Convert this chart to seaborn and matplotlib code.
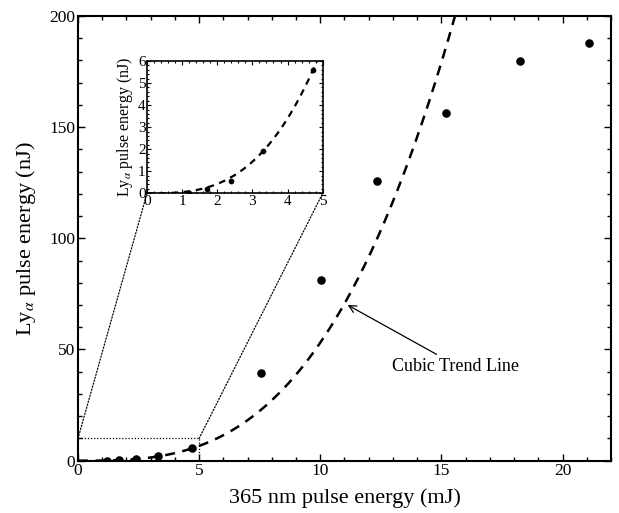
import numpy as np
import pandas as pd
import matplotlib
matplotlib.use("Agg")
import matplotlib.pyplot as plt
import seaborn as sns
from matplotlib.patches import ConnectionPatch
from matplotlib.ticker import MultipleLocator

# ---- data ----
low_x = [1.2, 1.7, 2.38, 3.31, 4.72]          # 365 nm pulse energy (mJ)
low_y = [0.03, 0.18, 0.57, 1.93, 5.6]         # Ly-alpha energy (nJ)
high_x = [7.55, 10.02, 12.36, 15.21, 18.26, 21.09]
high_y = [39.6, 81.4, 125.8, 156.2, 179.7, 188.0]

main_xticks = [0, 5, 10, 15, 20]
main_yticks = [0, 50, 100, 150, 200]
inset_xticks = [0, 1, 2, 3, 4, 5]
inset_yticks = [0, 1, 2, 3, 4, 5, 6]
zoom_box = (5, 10)   # x-extent, y-extent of zoomed region

# cubic trend line y = a*x^3 fitted (least squares) to the low-energy points
lx = np.array(low_x); ly = np.array(low_y)
a = np.sum(lx**3 * ly) / np.sum(lx**6)

all_df = pd.DataFrame({"x": low_x + high_x, "y": low_y + high_y})
low_df = pd.DataFrame({"x": low_x, "y": low_y})
tx = np.linspace(0, 16, 300)
trend_df = pd.DataFrame({"x": tx, "y": a * tx**3})
tx2 = np.linspace(0, 5, 200)
trend_in_df = pd.DataFrame({"x": tx2, "y": a * tx2**3})

sns.set_theme(style="ticks")
plt.rcParams["font.family"] = ["Liberation Serif", "DejaVu Serif"]
plt.rcParams["mathtext.fontset"] = "stix"
plt.rcParams["xtick.direction"] = "in"
plt.rcParams["ytick.direction"] = "in"

fig = plt.figure(figsize=(6.19, 5.13), dpi=100)
ax = fig.add_axes([0.126, 0.102, 0.861, 0.867])

sns.lineplot(data=trend_df, x="x", y="y", ax=ax, color="black", lw=1.8,
             linestyle=(0, (4, 3)))
sns.scatterplot(data=all_df, x="x", y="y", ax=ax, color="black", s=38,
                edgecolor="black", linewidth=0, zorder=5)

ax.set_xlim(0, 22)
ax.set_ylim(0, 200)
ax.set_xticks(main_xticks)
ax.set_yticks(main_yticks)
ax.xaxis.set_minor_locator(MultipleLocator(1))
ax.yaxis.set_minor_locator(MultipleLocator(10))
ax.tick_params(which="both", top=True, right=True, labelsize=12.5, pad=2,
               width=1.0, color="black", labelcolor="black")
ax.tick_params(which="major", length=5)
ax.tick_params(which="minor", length=3)
for s in ax.spines.values():
    s.set_linewidth(1.5)
    s.set_color("black")
ax.set_xlabel("365 nm pulse energy (mJ)", fontsize=16, labelpad=6, color="black")
ax.set_ylabel(r"Ly$_\alpha$ pulse energy (nJ)", fontsize=16, labelpad=8, color="black")

# zoom box (dotted)
bx, by = zoom_box
ax.plot([0, bx, bx], [by, by, 0], color="black", lw=0.9, linestyle=(0, (1, 1.5)))

# annotation
ax.annotate("Cubic Trend Line", xy=(11.08, 70.3), xytext=(12.95, 42.5),
            fontsize=13, va="center", ha="left", color="black",
            arrowprops=dict(arrowstyle="->", color="black", lw=0.9,
                            shrinkA=0, shrinkB=1,
                            relpos=(0.4, 1.0)))

# inset
axins = fig.add_axes([0.2375, 0.6232, 0.2838, 0.2578])
sns.lineplot(data=trend_in_df, x="x", y="y", ax=axins, color="black", lw=1.6,
             linestyle=(0, (3, 2.5)))
sns.scatterplot(data=low_df, x="x", y="y", ax=axins, color="black", s=17,
                linewidth=0, zorder=5)
axins.set_xlim(0, 5)
axins.set_ylim(0, 6)
axins.set_xticks(inset_xticks)
axins.set_yticks(inset_yticks)
axins.xaxis.set_minor_locator(MultipleLocator(0.2))
axins.yaxis.set_minor_locator(MultipleLocator(0.2))
axins.tick_params(which="both", top=True, right=True, labelsize=11, pad=1,
                  width=0.8, color="black", labelcolor="black")
axins.tick_params(which="major", length=3)
axins.tick_params(which="minor", length=1.5)
for s in axins.spines.values():
    s.set_linewidth(1.2)
    s.set_color("black")
axins.set_xlabel("")
axins.set_ylabel(r"Ly$_\alpha$ pulse energy (nJ)", fontsize=11.5, labelpad=2, color="black")

for (xa, xb) in [(0, 0), (bx, 5)]:
    con = ConnectionPatch(xyA=(xa, by), coordsA=ax.transData,
                          xyB=(xb, 0), coordsB=axins.transData,
                          color="black", lw=0.9, linestyle=(0, (1, 1.5)))
    fig.add_artist(con)

fig.savefig("out.png", dpi=100)
